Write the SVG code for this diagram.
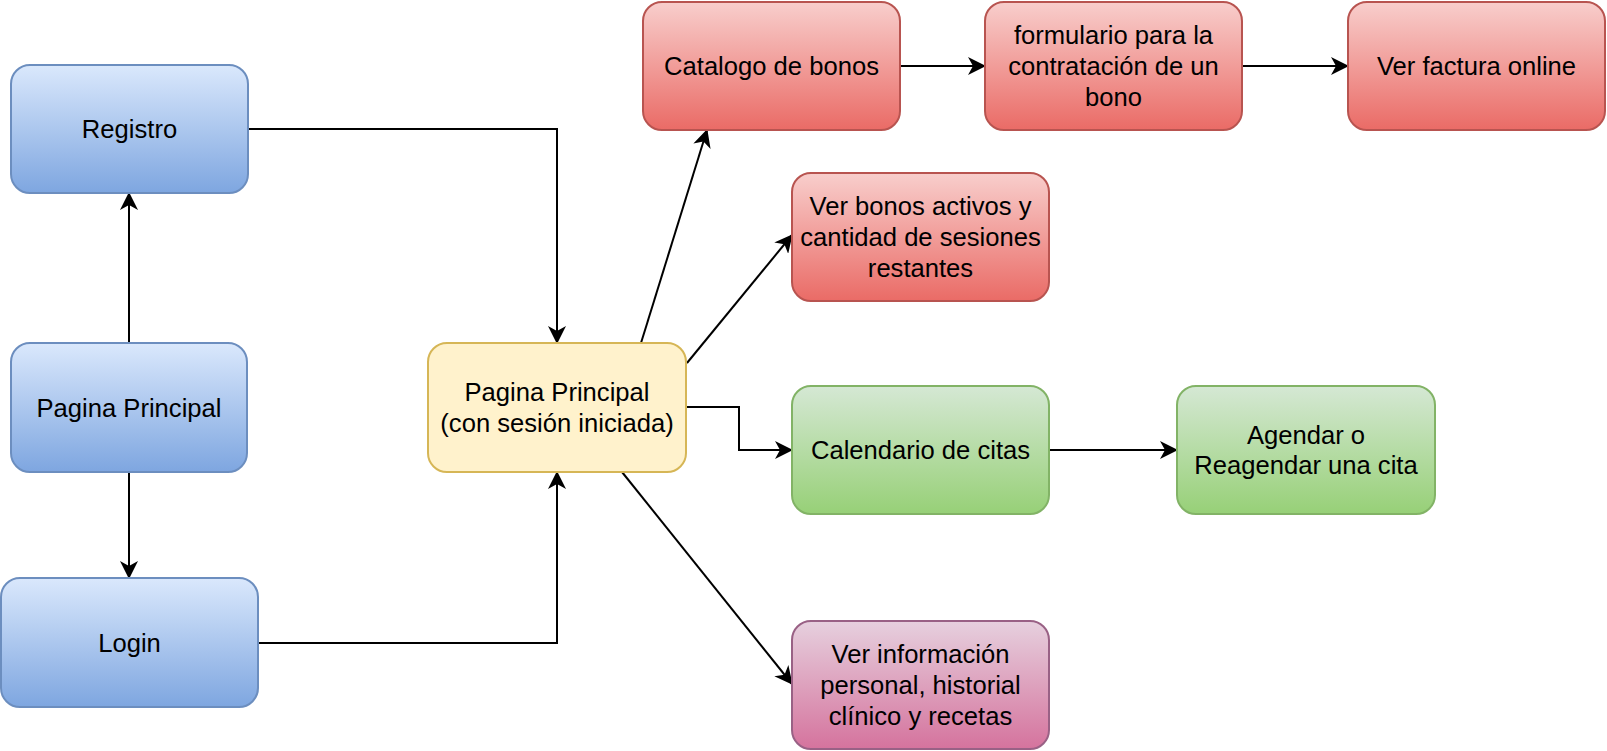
<svg xmlns="http://www.w3.org/2000/svg" width="1607" height="751" viewBox="0 0 1607 751">
<style>
.box{stroke-width:2}
.blue{fill:url(#gBlue);stroke:#6c8ebf}
.red{fill:url(#gRed);stroke:#b85450}
.green{fill:url(#gGreen);stroke:#82b366}
.yellow{fill:#fff2cc;stroke:#d6b656}
.pink{fill:url(#gPink);stroke:#996185}
text{font-family:"Liberation Sans",Arial,sans-serif;font-size:25.6px;fill:#000;text-anchor:middle;dominant-baseline:central}
.edge{fill:none;stroke:#000;stroke-width:2;marker-end:url(#arr)}
</style>
<defs>
<linearGradient id="gBlue" x1="0" y1="0" x2="0" y2="1"><stop offset="0" stop-color="#dae8fc"/><stop offset="1" stop-color="#7ea6e0"/></linearGradient>
<linearGradient id="gRed" x1="0" y1="0" x2="0" y2="1"><stop offset="0" stop-color="#f8cecc"/><stop offset="1" stop-color="#ea6b66"/></linearGradient>
<linearGradient id="gGreen" x1="0" y1="0" x2="0" y2="1"><stop offset="0" stop-color="#d5e8d4"/><stop offset="1" stop-color="#97d077"/></linearGradient>
<linearGradient id="gPink" x1="0" y1="0" x2="0" y2="1"><stop offset="0" stop-color="#e6d0de"/><stop offset="1" stop-color="#d5739d"/></linearGradient>
<marker id="arr" viewBox="0 0 18 18" refX="17" refY="9" markerWidth="18" markerHeight="18" markerUnits="userSpaceOnUse" orient="auto">
<path d="M0,0 L18,9 L0,18 L5,9 Z" fill="#000"/>
</marker>
</defs>

<g id="connectors">
<path class="edge" d="M129,343 L129,193"/>
<path class="edge" d="M129,472 L129,578"/>
<path class="edge" d="M248,129 L557,129 L557,343"/>
<path class="edge" d="M258,643 L557,643 L557,472"/>
<path class="edge" d="M641,343 L707,130"/>
<path class="edge" d="M687,363 L792,235"/>
<path class="edge" d="M687,407 L739,407 L739,450 L792,450"/>
<path class="edge" d="M622,472 L792,684"/>
<path class="edge" d="M900,66 L985,66"/>
<path class="edge" d="M1242,66 L1348,66"/>
<path class="edge" d="M1050,450 L1177,450"/>
</g>

<g id="registro">
<rect class="box blue" x="11" y="65" width="237" height="128" rx="19"/>
<text x="129.5" y="129">Registro</text>
</g>
<g id="pagina-principal">
<rect class="box blue" x="11" y="343" width="236" height="129" rx="19"/>
<text x="129" y="407.5">Pagina Principal</text>
</g>
<g id="login">
<rect class="box blue" x="1" y="578" width="257" height="129" rx="19"/>
<text x="129.5" y="642.5">Login</text>
</g>
<g id="pagina-principal-sesion">
<rect class="box yellow" x="428" y="343" width="258" height="129" rx="19"/>
<text x="557" y="392">Pagina Principal</text>
<text x="557" y="422.7">(con sesión iniciada)</text>
</g>
<g id="catalogo">
<rect class="box red" x="643" y="2" width="257" height="128" rx="19"/>
<text x="771.5" y="66">Catalogo de bonos</text>
</g>
<g id="formulario">
<rect class="box red" x="985" y="2" width="257" height="128" rx="19"/>
<text x="1113.5" y="35.3">formulario para la</text>
<text x="1113.5" y="66">contratación de un</text>
<text x="1113.5" y="96.7">bono</text>
</g>
<g id="factura">
<rect class="box red" x="1348" y="2" width="257" height="128" rx="19"/>
<text x="1476.5" y="66">Ver factura online</text>
</g>
<g id="bonos-activos">
<rect class="box red" x="792" y="173" width="257" height="128" rx="19"/>
<text x="920.5" y="206.3">Ver bonos activos y</text>
<text x="920.5" y="237">cantidad de sesiones</text>
<text x="920.5" y="267.7">restantes</text>
</g>
<g id="calendario">
<rect class="box green" x="792" y="386" width="257" height="128" rx="19"/>
<text x="920.5" y="450">Calendario de citas</text>
</g>
<g id="agendar">
<rect class="box green" x="1177" y="386" width="258" height="128" rx="19"/>
<text x="1306" y="434.7">Agendar o</text>
<text x="1306" y="465.3">Reagendar una cita</text>
</g>
<g id="info-personal">
<rect class="box pink" x="792" y="621" width="257" height="128" rx="19"/>
<text x="920.5" y="654.3">Ver información</text>
<text x="920.5" y="685">personal, historial</text>
<text x="920.5" y="715.7">clínico y recetas</text>
</g>
</svg>
